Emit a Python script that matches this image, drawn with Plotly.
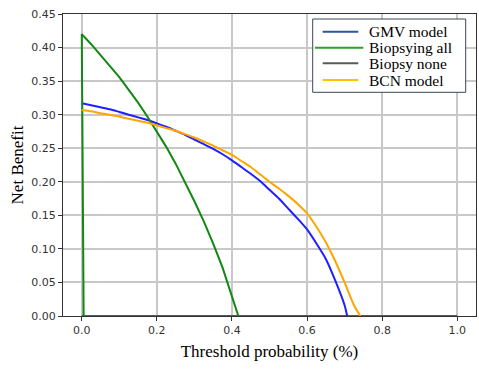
import plotly.graph_objects as go

# Threshold probabilities and net benefit (sample points)
thr_gmv = [0.0, 0.025, 0.05, 0.075, 0.10, 0.125, 0.15, 0.175, 0.20, 0.225, 0.25, 0.275,
           0.30, 0.325, 0.35, 0.375, 0.40, 0.425, 0.45, 0.475, 0.50, 0.525, 0.55, 0.575,
           0.60, 0.625, 0.65, 0.675, 0.70, 0.707]
nb_gmv = [0.317, 0.314, 0.311, 0.308, 0.304, 0.300, 0.296, 0.292, 0.287, 0.282, 0.276, 0.270,
          0.263, 0.256, 0.249, 0.241, 0.232, 0.222, 0.212, 0.201, 0.188, 0.175, 0.160, 0.145,
          0.129, 0.108, 0.085, 0.053, 0.016, 0.0]

thr_bcn = [0.0, 0.025, 0.05, 0.075, 0.10, 0.125, 0.15, 0.175, 0.20, 0.225, 0.25, 0.275,
           0.30, 0.325, 0.35, 0.375, 0.40, 0.425, 0.45, 0.475, 0.50, 0.525, 0.55, 0.575,
           0.60, 0.625, 0.65, 0.675, 0.70, 0.725, 0.742]
nb_bcn = [0.307, 0.305, 0.302, 0.300, 0.297, 0.294, 0.291, 0.288, 0.284, 0.280, 0.276, 0.271,
          0.266, 0.260, 0.254, 0.247, 0.240, 0.231, 0.222, 0.211, 0.200, 0.190, 0.179, 0.167,
          0.153, 0.133, 0.110, 0.082, 0.050, 0.016, 0.0]

thr_all = [0.005, 0.0, 0.025, 0.05, 0.075, 0.10, 0.125, 0.15, 0.175, 0.20, 0.225, 0.25,
           0.275, 0.30, 0.325, 0.35, 0.375, 0.40, 0.417]
nb_all = [0.0, 0.420, 0.405, 0.389, 0.373, 0.356, 0.337, 0.318, 0.297, 0.275, 0.252, 0.227,
          0.200, 0.171, 0.141, 0.108, 0.072, 0.030, 0.0]

thr_none = [0.0, 1.0]
nb_none = [0.0, 0.0]

x_ticks = [0.0, 0.2, 0.4, 0.6, 0.8, 1.0]
y_ticks = [0.00, 0.05, 0.10, 0.15, 0.20, 0.25, 0.30, 0.35, 0.40, 0.45]

legend_names = ["GMV model", "Biopsying all", "Biopsy none", "BCN model"]
legend_colors = ["#2F5597", "#2ca02c", "#595959", "#FFC000"]

fig = go.Figure()

fig.add_trace(go.Scatter(x=thr_none, y=nb_none, mode="lines", name="Biopsy none",
                         line=dict(color="#595959", width=2), showlegend=False))
fig.add_trace(go.Scatter(x=thr_gmv, y=nb_gmv, mode="lines", name="GMV model",
                         line=dict(color="#1f1fff", width=2, shape="spline", smoothing=0.6),
                         showlegend=False))
fig.add_trace(go.Scatter(x=thr_all, y=nb_all, mode="lines", name="Biopsying all",
                         line=dict(color="#118811", width=2), showlegend=False))
fig.add_trace(go.Scatter(x=thr_bcn, y=nb_bcn, mode="lines", name="BCN model",
                         line=dict(color="#ffa500", width=2, shape="spline", smoothing=0.6),
                         showlegend=False))

axis_common = dict(
    showgrid=True, gridcolor="#c8c8c8", gridwidth=1.5,
    showline=True, linecolor="#333333", linewidth=1, mirror=True,
    ticks="outside", ticklen=4, tickcolor="#333333",
    tickfont=dict(family="DejaVu Sans", size=11, color="#333333"),
    zeroline=False, automargin=False,
)

fig.update_xaxes(range=[-0.05, 1.05], tickvals=x_ticks, tickformat=".1f",
                 title=dict(text="Threshold probability (%)",
                            font=dict(family="Liberation Serif", size=17, color="black"),
                            standoff=8),
                 **axis_common)
fig.update_yaxes(range=[0, 0.45], tickvals=y_ticks, tickformat=".2f",
                 title=dict(text="Net Benefit",
                            font=dict(family="Liberation Serif", size=17, color="black"),
                            standoff=3),
                 **axis_common)

# Legend drawn in paper coordinates (box, handles, labels)
L, R, T, B = 63.0, 476.0, 14.0, 316.0
W, H = R - L, B - T

def px(x):
    return (x - L) / W

def py(y):
    return 1 - (y - T) / H

shapes = [dict(type="rect", xref="paper", yref="paper",
               x0=px(312.7), x1=px(465.7), y0=py(92.3), y1=py(19),
               fillcolor="white", line=dict(color="#3a4654", width=1), layer="above")]
annotations = []
row_y = [31.7, 47.7, 63.3, 80.0]
for i, (name, col) in enumerate(zip(legend_names, legend_colors)):
    if name == "Biopsying all":
        x0, x1 = 315.0, 363.3
    else:
        x0, x1 = 322.7, 358.3
    shapes.append(dict(type="line", xref="paper", yref="paper",
                       x0=px(x0), x1=px(x1), y0=py(row_y[i]), y1=py(row_y[i]),
                       line=dict(color=col, width=2), layer="above"))
    annotations.append(dict(text=name, xref="paper", yref="paper",
                            x=px(366.7), y=py(row_y[i]), xanchor="left", yanchor="middle",
                            showarrow=False,
                            font=dict(family="Liberation Serif", size=15.5, color="black")))

fig.update_layout(
    width=479, height=370,
    margin=dict(l=63, r=3, t=14, b=54),
    plot_bgcolor="white", paper_bgcolor="white",
    showlegend=False,
    shapes=shapes, annotations=annotations,
)

fig.write_html("out.html", config={"displayModeBar": False},
               post_script="document.body.style.margin='0';")
